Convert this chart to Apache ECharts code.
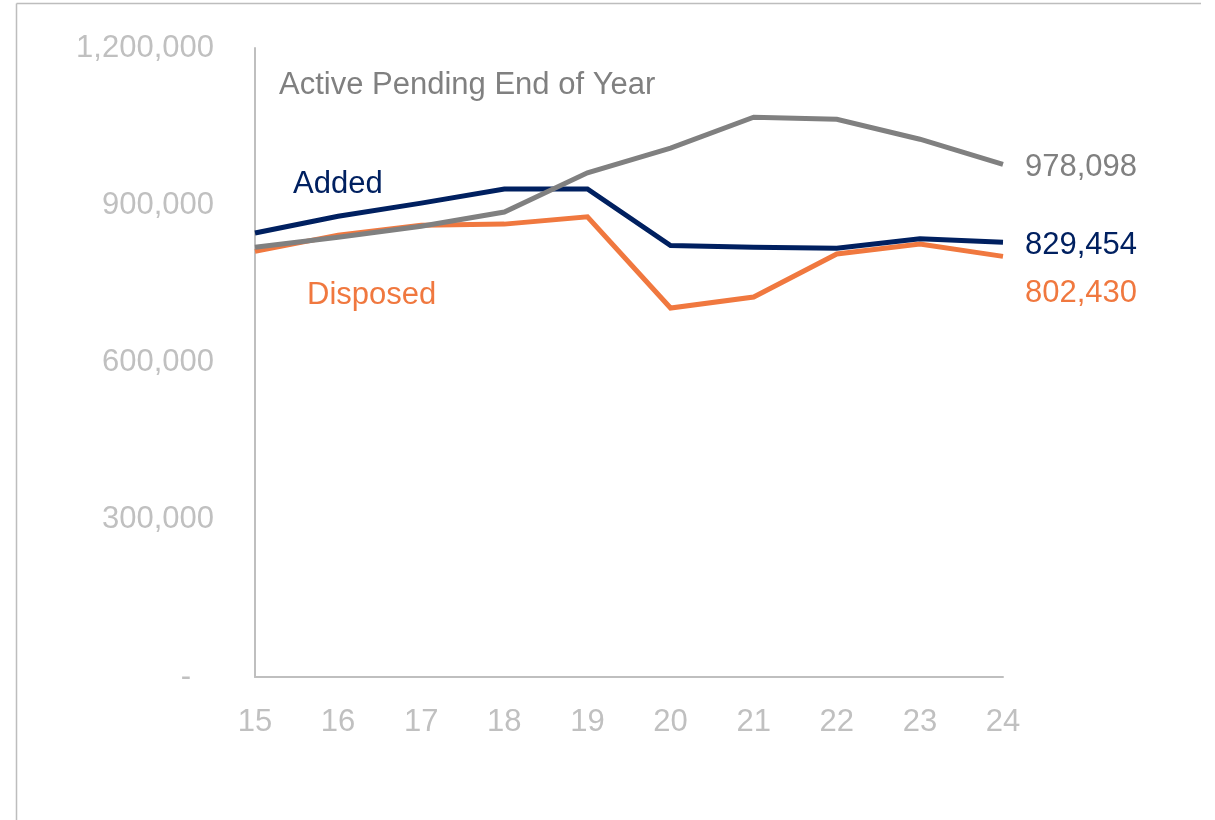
<!DOCTYPE html>
<html>
<head>
<meta charset="utf-8">
<title>Cases Added, Disposed and Active Pending</title>
<script src="https://cdn.jsdelivr.net/npm/echarts@6/dist/echarts.min.js"></script>
<style>
  html, body { margin: 0; padding: 0; background: #ffffff; }
  #chart { width: 1215px; height: 820px; }
</style>
</head>
<body>
<div id="chart"></div>
<script>
// Fiscal years (two-digit)
const years = ['15', '16', '17', '18', '19', '20', '21', '22', '23', '24'];

// Cases added each year
const added = [847000, 879000, 904000, 931000, 931000, 823000, 820000, 818000, 836000, 829454];

// Cases disposed each year
const disposed = [812000, 843000, 862000, 864000, 878000, 704000, 725000, 807000, 826000, 802430];

// Active pending cases at end of year
const activePending = [820000, 839000, 860000, 887000, 962000, 1009000, 1068000, 1064000, 1026000, 978098];

// Value axis ticks
const yTicks = [0, 300000, 600000, 900000, 1200000];

const NAVY = '#002060';
const ORANGE = '#F0783F';
const GRAY = '#808080';
const AXIS_GRAY = '#BFBFBF';
const FONT = '"Liberation Sans", Arial, sans-serif';

const fmt = v => Math.round(v).toLocaleString('en-US');

function lineSeries(name, data, color, labelOffsetY) {
  return {
    name: name,
    type: 'line',
    data: data,
    symbol: 'none',
    lineStyle: { color: color, width: 5, cap: 'butt', join: 'miter' },
    itemStyle: { color: color },
    endLabel: {
      show: true,
      formatter: p => fmt(p.value),
      color: color,
      fontFamily: FONT,
      fontSize: 31,
      distance: 22,
      offset: [0, labelOffsetY]
    },
    emphasis: { disabled: true },
    animation: false
  };
}

const chart = echarts.init(document.getElementById('chart'), null, { renderer: 'canvas' });

chart.setOption({
  backgroundColor: '#ffffff',
  animation: false,
  grid: { left: 255, right: 212, top: 48, bottom: 143, containLabel: false },
  xAxis: {
    type: 'category',
    data: years,
    boundaryGap: false,
    axisLine: { show: true, lineStyle: { color: AXIS_GRAY, width: 2 } },
    axisTick: { show: false },
    axisLabel: { color: '#C0C0C0', fontFamily: FONT, fontSize: 31, margin: 30 },
    splitLine: { show: false }
  },
  yAxis: {
    type: 'value',
    min: yTicks[0],
    max: yTicks[yTicks.length - 1],
    interval: yTicks[1] - yTicks[0],
    axisLine: { show: true, lineStyle: { color: AXIS_GRAY, width: 2 } },
    axisTick: { show: false },
    splitLine: { show: false },
    axisLabel: {
      color: '#C0C0C0',
      fontFamily: FONT,
      fontSize: 31,
      margin: 41,
      formatter: v => (v === 0 ? '{z|-}' : fmt(v)),
      rich: { z: { color: '#C0C0C0', fontFamily: FONT, fontSize: 31, padding: [0, 23, 0, 0] } }
    }
  },
  graphic: [
    // frame edges
    { type: 'line', shape: { x1: 16.5, y1: 3.5, x2: 1201, y2: 3.5 }, style: { stroke: '#BDBDBD', lineWidth: 1.5 }, silent: true },
    { type: 'line', shape: { x1: 16.5, y1: 3.5, x2: 16.5, y2: 820 }, style: { stroke: '#BDBDBD', lineWidth: 1.5 }, silent: true },
    // series captions
    { type: 'text', left: 279, top: 70, style: { text: 'Active Pending End of Year', fill: GRAY, font: '31px ' + FONT }, silent: true },
    { type: 'text', left: 293, top: 169, style: { text: 'Added', fill: NAVY, font: '31px ' + FONT }, silent: true },
    { type: 'text', left: 307, top: 280, style: { text: 'Disposed', fill: ORANGE, font: '31px ' + FONT }, silent: true }
  ],
  series: [
    lineSeries('Disposed', disposed, ORANGE, 37),
    lineSeries('Added', added, NAVY, 3),
    lineSeries('Active Pending End of Year', activePending, GRAY, 3)
  ]
});
</script>
</body>
</html>
